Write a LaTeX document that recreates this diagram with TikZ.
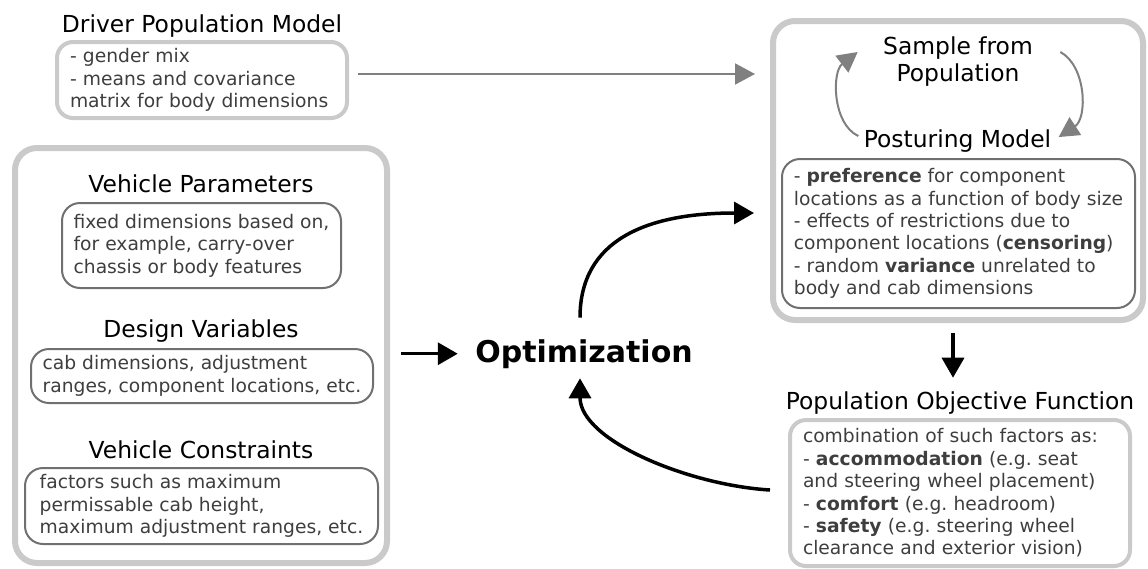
\documentclass[tikz,border=0pt]{standalone}
\usepackage{fontspec}
\setmainfont{DejaVu Sans}
\usetikzlibrary{arrows.meta}
\definecolor{boxgray}{RGB}{202,202,202}
\definecolor{linegray}{RGB}{112,112,112}
\definecolor{arrowgray}{RGB}{128,128,128}
\definecolor{textgray}{RGB}{62,62,62}
\frenchspacing
\begin{document}
\begin{tikzpicture}[x=1pt,y=-1pt,
		heading/.style={anchor=base,inner sep=3.3pt,font=\fontsize{23.4}{27}\selectfont},
		infobox/.style={draw=linegray,line width=2pt,rounded corners=18pt,inner sep=0pt,align=left,text=textgray,font=\fontsize{18.7}{22.4}\selectfont},
		outerbox/.style={draw=boxgray,line width=6pt,rounded corners=22pt,inner sep=0pt},
		lightbox/.style={draw=boxgray,line width=4pt,rounded corners=16pt,inner ysep=0pt,inner xsep=13pt,align=left,text=textgray,font=\fontsize{18.7}{22.4}\selectfont},
		grayarrow/.style={draw=arrowgray,line width=2pt,-{Triangle[length=20pt,width=21pt]}},
		blackarrow/.style={line width=3.5pt,-{Triangle[length=20pt,width=22pt]}}]
			\useasboundingbox (0,0) rectangle (1148,568);
			%driver population model
			\node[heading] (drivertitle) at (202,32) {Driver Population Model};
			\node[lightbox,text width=264pt,minimum height=76pt] (driver) at (202,80) {- gender mix\\- means and covariance\\matrix for body dimensions};
			%population box
			\node[outerbox,minimum width=370pt,minimum height=299pt] (popbox) at (958,170.5) {};
			\node[heading,anchor=center,align=center] (sample) at (958,62) {Sample from\\Population};
			\node[heading] (postitle) at (957.5,147) {Posturing Model};
			\node[infobox,minimum width=353pt,minimum height=149pt] (posturing) at (958.5,233.5) {- \textbf{preference} for component\\locations as a function of body size\\- effects of restrictions due to\\component locations (\textbf{censoring})\\- random \textbf{variance} unrelated to\\body and cab dimensions};
			%vehicle box
			\node[outerbox,minimum width=372pt,minimum height=415pt] (leftbox) at (201,355.5) {};
			\node[heading] (vptitle) at (201,192) {Vehicle Parameters};
			\node[infobox,minimum width=279pt,minimum height=85pt] (vp) at (201.5,245.5) {fixed dimensions based on,\\for example, carry-over\\chassis or body features};
			\node[heading] (dvtitle) at (201,337) {Design Variables};
			\node[infobox,minimum width=342pt,minimum height=54pt] (dv) at (202,376) {cab dimensions, adjustment\\ranges, component locations, etc.};
			\node[heading] (vctitle) at (201,458) {Vehicle Constraints};
			\node[infobox,minimum width=353pt,minimum height=76pt] (vc) at (201.5,506) {factors such as maximum\\permissable cab height,\\maximum adjustment ranges, etc.};
			%optimization
			\node[anchor=base,font=\bfseries\fontsize{30}{36}\selectfont] (opt) at (584,362) {Optimization};
			%objective function
			\node[heading] (poftitle) at (960,409) {Population Objective Function};
			\node[lightbox,text width=314pt,minimum height=146pt] (pof) at (960,493) {combination of such factors as:\\- \textbf{accommodation} (e.g. seat\\and steering wheel placement)\\- \textbf{comfort} (e.g. headroom)\\- \textbf{safety} (e.g. steering wheel\\clearance and exterior vision)};
			% arrows
			\draw[grayarrow,shorten >=15pt] ([xshift=9pt,yshift=6pt]driver.east) -- ([yshift=6pt]driver.east -| popbox.west);
			\draw[grayarrow] ([xshift=-2pt,yshift=4.5pt]postitle.west) .. controls +(-26,-12) and +(-26,20) .. ([xshift=-22pt,yshift=10pt]sample.west);
			\draw[grayarrow] ([xshift=24pt,yshift=10pt]sample.east) .. controls +(26,14) and +(29,-19) .. ([xshift=4pt,yshift=3.5pt]postitle.east);
			\draw[blackarrow,shorten <=11pt,shorten >=14pt] (leftbox.east |- opt.west) -- (opt.west);
			\draw[blackarrow] ([xshift=-4pt,yshift=18pt]opt.north) .. controls +(0,-78) and +(-107,0) .. ([xshift=-16pt,yshift=-42.5pt]popbox.west);
			\draw[blackarrow] ([xshift=-5pt,yshift=-10pt]popbox.south) -- ([xshift=-7pt,yshift=10pt]poftitle.north);
			\draw[blackarrow] ([xshift=-18pt,yshift=3pt]pof.west) .. controls +(-82,-5) and +(0,62) .. ([xshift=-4pt,yshift=-6.5pt]opt.south);
		\end{tikzpicture}
\end{document}
